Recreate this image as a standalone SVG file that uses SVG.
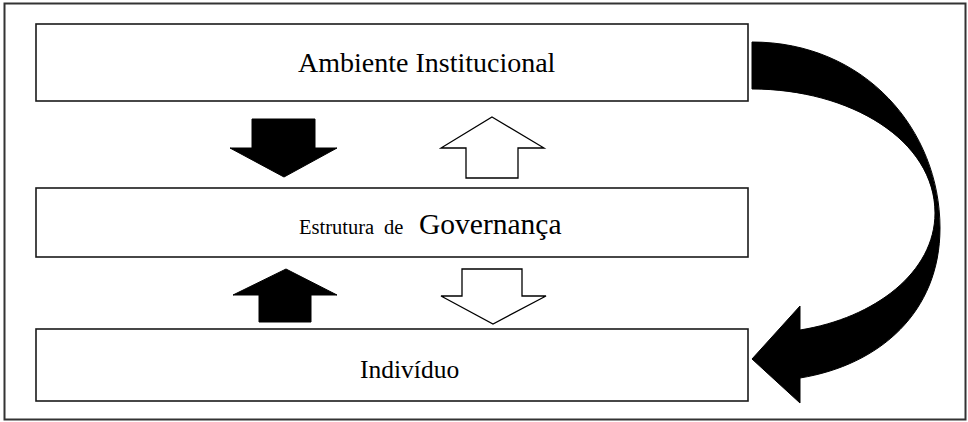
<svg xmlns="http://www.w3.org/2000/svg" width="968" height="422" viewBox="0 0 968 422">
<style>
.box{fill:#fff;stroke:#1a1a1a;stroke-width:1.6}
.t{font-family:"Liberation Serif","Times New Roman",serif;fill:#000}
.blk{fill:#000;stroke:#000;stroke-width:1}
.wht{fill:#fff;stroke:#000;stroke-width:1.3;stroke-linejoin:miter}
</style>
<rect x="0" y="0" width="968" height="422" fill="#fff"/>
<rect x="4.5" y="3.5" width="961" height="416" fill="none" stroke="#333" stroke-width="2"/>
<g id="ambiente">
<rect class="box" x="36" y="24" width="712" height="77"/>
<text class="t" x="298" y="72" font-size="28">Ambiente Institucional</text>
</g>
<g id="estrutura">
<rect class="box" x="36" y="188" width="712" height="69"/>
<text class="t" y="234"><tspan x="299" font-size="20.5">Estrutura</tspan><tspan x="384" font-size="20.5">de</tspan><tspan x="419" font-size="29.5">Governança</tspan></text>
</g>
<g id="individuo">
<rect class="box" x="36" y="329" width="712" height="72"/>
<text class="t" x="360" y="378" font-size="25.5">Indivíduo</text>
</g>
<g id="connectors">
<polygon class="blk" points="252,119 315,119 315,148 337,148 284,177 230,148 252,148"/>
<polygon class="wht" points="492,117 544,148 518,148 518,178 466,178 466,148 441,148"/>
<polygon class="blk" points="286,269 337,295 311,295 311,322 259,322 259,295 233,295"/>
<polygon class="wht" points="462,269 522,269 522,296 546,296 493,324 441,296 462,296"/>
<path class="blk" d="M752,42 C865,42 940,130 940,228 C940,312 880,365 800,378 L800,403 L752,359 L800,306 L800,330 C875,318 935,272 935,213 C935,140 850,89 752,89 Z"/>
</g>
</svg>
